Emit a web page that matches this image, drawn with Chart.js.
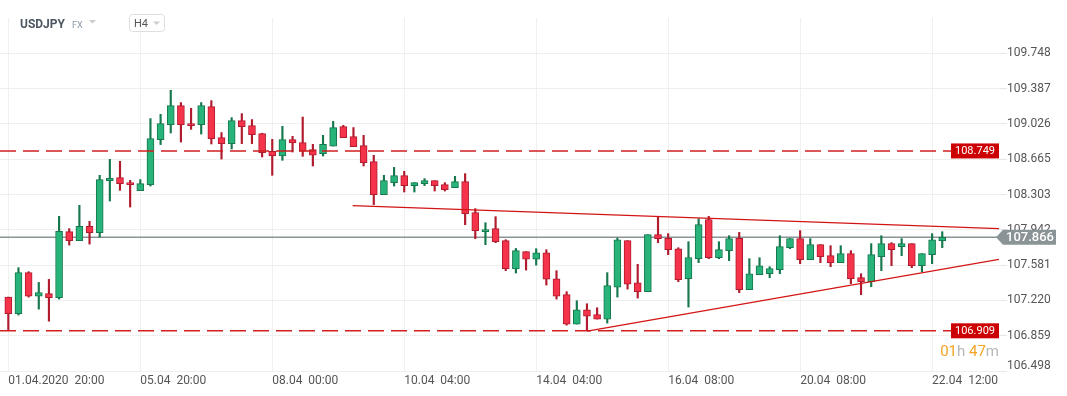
<!DOCTYPE html>
<html lang="en">
<head>
<meta charset="UTF-8">
<title>USDJPY H4</title>
<script src="https://cdn.jsdelivr.net/npm/chart.js"></script>
<style>
  body { margin: 0; background: #fff; font-family: Roboto, Arial, sans-serif; }
  #wrap { position: relative; width: 1067px; height: 396px; }
</style>
</head>
<body>
<div id="wrap"><canvas id="chart"></canvas></div>
<script>
// H4 candles
const opens = [107.254, 107.084, 107.504, 107.264, 107.289, 107.248, 107.923, 107.831, 107.978, 107.913,
  108.445, 108.476, 108.425, 108.343, 108.404, 108.865, 109.019, 109.213, 109.029, 109.019,
  109.203, 108.885, 108.824, 109.059, 109.008, 108.926, 108.745, 108.697, 108.865, 108.834,
  108.763, 108.722, 108.799, 108.998, 108.896, 108.804, 108.640, 108.303, 108.425, 108.497,
  108.394, 108.415, 108.445, 108.404, 108.374, 108.435, 108.118, 107.923, 107.954, 107.831,
  107.541, 107.719, 107.643, 107.708, 107.442, 107.279, 106.978, 107.125, 107.074, 107.029,
  107.356, 107.831, 107.401, 107.309, 107.893, 107.855, 107.749, 107.442, 107.647, 108.046,
  107.657, 107.729, 107.855, 107.330, 107.483, 107.493, 107.534, 107.760, 107.852, 107.637,
  107.790, 107.678, 107.606, 107.698, 107.453, 107.412, 107.667, 107.801, 107.770, 107.801,
  107.575, 107.688, 107.831];
const highs = [107.254, 107.555, 107.514, 107.404, 107.435, 108.080, 107.954, 108.193, 108.029, 108.500,
  108.663, 108.643, 108.448, 108.456, 109.080, 109.124, 109.370, 109.244, 109.185, 109.244,
  109.264, 108.937, 109.090, 109.131, 109.070, 108.930, 108.868, 109.001, 108.899, 109.096,
  108.817, 108.909, 109.052, 109.011, 108.988, 108.909, 108.704, 108.500, 108.581, 108.541,
  108.425, 108.466, 108.445, 108.425, 108.489, 108.517, 108.159, 108.015, 108.077, 107.841,
  107.752, 107.719, 107.749, 107.739, 107.524, 107.309, 107.217, 107.186, 107.145, 107.504,
  107.858, 107.831, 107.589, 107.893, 108.077, 107.903, 107.759, 107.821, 108.056, 108.080,
  107.821, 107.882, 107.916, 107.647, 107.657, 107.565, 107.882, 107.852, 107.934, 107.852,
  107.790, 107.780, 107.780, 107.729, 107.493, 107.801, 107.882, 107.811, 107.852, 107.801,
  107.698, 107.903, 107.923];
const lows = [106.920, 107.070, 107.254, 107.131, 107.008, 107.234, 107.786, 107.831, 107.796, 107.868,
  108.237, 108.346, 108.175, 108.343, 108.390, 108.814, 108.933, 108.840, 108.970, 108.922,
  108.820, 108.666, 108.769, 108.824, 108.824, 108.687, 108.500, 108.653, 108.738, 108.694,
  108.595, 108.697, 108.799, 108.885, 108.793, 108.595, 108.200, 108.303, 108.390, 108.329,
  108.329, 108.394, 108.339, 108.339, 108.374, 107.995, 107.852, 107.790, 107.811, 107.524,
  107.500, 107.530, 107.581, 107.377, 107.234, 106.967, 106.978, 106.913, 107.029, 106.988,
  107.254, 107.336, 107.244, 107.309, 107.811, 107.688, 107.412, 107.152, 107.606, 107.647,
  107.647, 107.627, 107.299, 107.330, 107.483, 107.453, 107.493, 107.749, 107.596, 107.637,
  107.606, 107.565, 107.606, 107.391, 107.279, 107.360, 107.524, 107.575, 107.678, 107.555,
  107.514, 107.596, 107.760];
const closes = [107.084, 107.504, 107.264, 107.299, 107.248, 107.926, 107.831, 107.978, 107.913, 108.456,
  108.469, 108.415, 108.404, 108.415, 108.875, 109.029, 109.213, 109.019, 109.008, 109.213,
  108.875, 108.824, 109.059, 108.998, 108.916, 108.732, 108.697, 108.865, 108.830, 108.748,
  108.707, 108.817, 108.988, 108.885, 108.793, 108.630, 108.303, 108.445, 108.497, 108.394,
  108.425, 108.445, 108.394, 108.353, 108.435, 108.108, 107.934, 107.944, 107.821, 107.545,
  107.729, 107.643, 107.708, 107.438, 107.264, 106.978, 107.125, 107.059, 107.029, 107.371,
  107.841, 107.387, 107.309, 107.893, 107.852, 107.739, 107.432, 107.657, 107.995, 107.657,
  107.739, 107.852, 107.330, 107.493, 107.575, 107.545, 107.770, 107.852, 107.637, 107.790,
  107.667, 107.606, 107.698, 107.442, 107.412, 107.688, 107.801, 107.739, 107.801, 107.575,
  107.698, 107.841, 107.866];

const xTickIdx = [0, 13, 26, 39, 52, 65, 78, 91];
const xTickLabels = ['01.04.2020  20:00', '05.04  20:00', '08.04  00:00', '10.04  04:00',
  '14.04  04:00', '16.04  08:00', '20.04  08:00', '22.04  12:00'];
const yTicks = [106.498, 106.859, 107.220, 107.581, 107.942, 108.303, 108.665, 109.026, 109.387, 109.748];
const yMin = 106.498, yMax = 110.109;
const xMin = -0.82, xMax = 97.59;

// horizontal levels and the triangle
const levels = [108.749, 106.909];
const resistance = [[33.92, 108.190], [97.59, 107.954]];
const support = [[57.03, 106.906], [97.59, 107.640]];
const lastPrice = closes[closes.length - 1];

const UP = '#27b379', UP_EDGE = '#16784c';
const DOWN = '#f5334b', DOWN_EDGE = '#b01b2d';
const isUp = i => closes[i] >= opens[i];

const lineDs = (pts, color, width, dash, order) => ({
  type: 'line',
  data: pts.map(p => ({ x: p[0], y: p[1] })),
  borderColor: color,
  borderWidth: width,
  borderDash: dash,
  pointRadius: 0,
  fill: false,
  order: order
});

const datasets = [
  {
    type: 'bar',
    data: opens.map((o, i) => ({ x: i, y: [o, closes[i]] })),
    backgroundColor: c => isUp(c.dataIndex) ? UP : DOWN,
    borderColor: c => isUp(c.dataIndex) ? UP_EDGE : DOWN_EDGE,
    borderWidth: 1,
    borderSkipped: false,
    barThickness: 7,
    minBarLength: 2,
    grouped: false,
    order: 2
  },
  {
    type: 'bar',
    data: lows.map((l, i) => ({ x: i, y: [l, highs[i]] })),
    backgroundColor: c => isUp(c.dataIndex) ? UP_EDGE : DOWN_EDGE,
    borderWidth: 0,
    barThickness: 1.5,
    grouped: false,
    order: 3
  },
  lineDs([[xMin, lastPrice], [xMax, lastPrice]], '#8a9396', 1.5, [], 4),
  lineDs(resistance, '#d41414', 1.2, [], 1),
  lineDs(support, '#d41414', 1.2, [], 1)
];
levels.forEach(v => datasets.push(lineDs([[xMin, v], [xMax, v]], '#d02020', 1.5, [16, 7], 1)));

const overlay = {
  id: 'overlay',
  afterDraw(chart) {
    const ctx = chart.ctx;
    const area = chart.chartArea;
    const y = chart.scales.y;
    ctx.save();

    // level tags
    ctx.font = '11px Roboto';
    ctx.textBaseline = 'middle';
    ctx.textAlign = 'center';
    levels.forEach(v => {
      const py = y.getPixelForValue(v);
      ctx.fillStyle = '#cc0000';
      ctx.fillRect(area.right - 48, py - 7.5, 48, 15);
      ctx.fillStyle = '#fff';
      ctx.fillText(v.toFixed(3), area.right - 24, py + 0.5);
    });

    // current price tag
    const py = y.getPixelForValue(lastPrice);
    const tip = area.right - 3;
    ctx.fillStyle = '#8a9396';
    ctx.beginPath();
    ctx.moveTo(tip, py);
    ctx.lineTo(tip + 7, py - 7.5);
    ctx.lineTo(tip + 60, py - 7.5);
    ctx.lineTo(tip + 60, py + 7.5);
    ctx.lineTo(tip + 7, py + 7.5);
    ctx.closePath();
    ctx.fill();
    ctx.fillStyle = '#fff';
    ctx.textAlign = 'left';
    ctx.font = '500 13px Roboto';
    ctx.fillText(lastPrice.toFixed(3), tip + 10, py + 0.5);

    // countdown
    ctx.font = '15px Roboto';
    ctx.textAlign = 'left';
    ctx.textBaseline = 'alphabetic';
    const parts = [['01', '#f6a324'], ['h', '#b4b8bb'], [' 47', '#f6a324'], ['m', '#b4b8bb']];
    let w = parts.reduce((s, p) => s + ctx.measureText(p[0]).width, 0);
    let tx = area.right - w;
    parts.forEach(p => {
      ctx.fillStyle = p[1];
      ctx.fillText(p[0], tx, 356);
      tx += ctx.measureText(p[0]).width;
    });

    // header
    ctx.fillStyle = '#4c5661';
    ctx.font = 'bold 12px Roboto';
    ctx.fillText('USDJPY', 20, 28);
    ctx.fillStyle = '#8797a8';
    ctx.font = '9px Roboto';
    ctx.fillText('FX', 72, 28);
    ctx.fillStyle = '#c9cdd1';
    ctx.beginPath();
    ctx.moveTo(89, 20); ctx.lineTo(96, 20); ctx.lineTo(92.5, 23.5); ctx.closePath(); ctx.fill();

    ctx.fillStyle = '#fff';
    ctx.strokeStyle = '#dcdfe2';
    ctx.lineWidth = 1;
    ctx.beginPath();
    ctx.roundRect(129.5, 14.5, 35, 17, 3);
    ctx.fill();
    ctx.stroke();
    ctx.fillStyle = '#555';
    ctx.font = '11px Roboto';
    ctx.fillText('H4', 134, 27);
    ctx.fillStyle = '#c9cdd1';
    ctx.beginPath();
    ctx.moveTo(153, 21.5); ctx.lineTo(160, 21.5); ctx.lineTo(156.5, 25); ctx.closePath(); ctx.fill();

    ctx.restore();
  }
};

new Chart(document.getElementById('chart'), {
  type: 'bar',
  data: { datasets: datasets },
  options: {
    responsive: true,
    maintainAspectRatio: false,
    animation: false,
    layout: { padding: { top: 18, left: 0, right: 0, bottom: 0 } },
    plugins: { legend: { display: false }, tooltip: { enabled: false } },
    scales: {
      x: {
        type: 'linear',
        min: xMin,
        max: xMax,
        offset: false,
        afterBuildTicks: s => { s.ticks = xTickIdx.map(v => ({ value: v })); },
        afterFit: s => { s.height = 25; },
        grid: { color: '#f0f0f0', offset: false, drawTicks: false },
        border: { display: false },
        ticks: {
          autoSkip: false,
          maxRotation: 0,
          align: 'start',
          padding: 3,
          color: '#555',
          font: { family: 'Roboto', size: 12 },
          callback: v => {
            const k = xTickIdx.indexOf(v);
            return k >= 0 ? xTickLabels[k] : '';
          }
        }
      },
      y: {
        position: 'right',
        min: yMin,
        max: yMax,
        afterBuildTicks: s => { s.ticks = yTicks.map(v => ({ value: v })); },
        afterFit: s => { s.width = 68; },
        grid: { color: '#efefef', tickLength: 8, tickColor: '#e6e6e6' },
        border: { display: false },
        ticks: {
          padding: 0,
          color: '#555',
          font: { family: 'Roboto', size: 12, lineHeight: 0.9 },
          // bottom label sits a little above its line, as in the picture
          callback: (v, i) => i === 0 ? [v.toFixed(3), ''] : v.toFixed(3)
        }
      }
    }
  },
  plugins: [overlay]
});
</script>
</body>
</html>
